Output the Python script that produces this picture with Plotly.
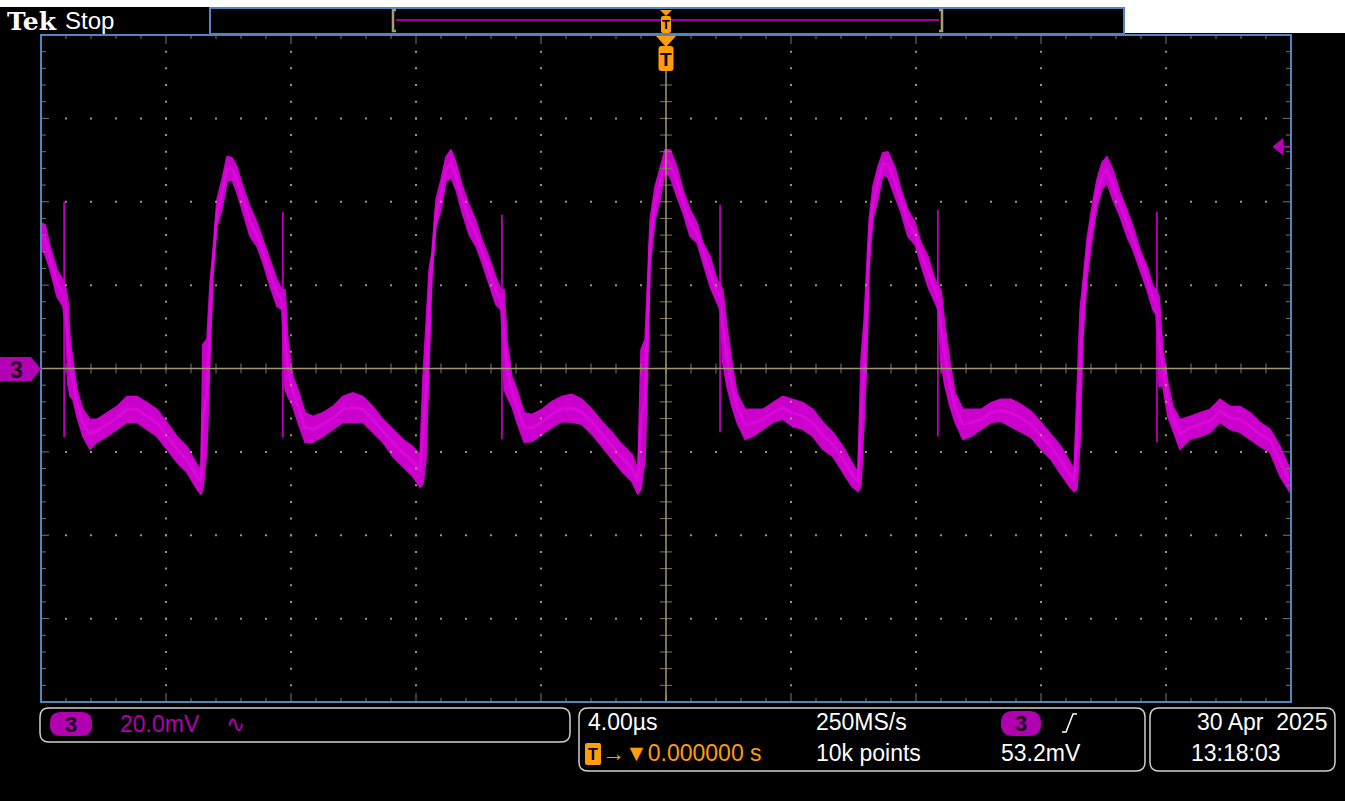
import numpy as np
import plotly.graph_objects as go

# ---- Channel 3 trace: upper / lower envelope of the displayed waveform ----
t_us = [-20.00, -19.87, -19.71, -19.49, -19.30, -19.20, -19.14, -19.07, -18.98, -18.85,
        -18.66, -18.43, -18.21, -17.89, -17.57, -17.25, -16.93, -16.61, -16.29, -15.97,
        -15.65, -15.33, -15.01, -14.88, -14.82, -14.69, -14.59, -14.50, -14.37, -14.21,
        -14.05, -13.89, -13.73, -13.54, -13.31, -13.09, -12.90, -12.67, -12.45, -12.29,
        -12.19, -12.10, -11.94, -11.78, -11.55, -11.30, -10.98, -10.66, -10.34, -10.02,
        -9.70, -9.38, -9.06, -8.74, -8.42, -8.10, -7.87, -7.78, -7.68, -7.58,
        -7.49, -7.36, -7.20, -7.04, -6.88, -6.72, -6.53, -6.30, -6.08, -5.89,
        -5.66, -5.44, -5.28, -5.18, -5.09, -4.93, -4.77, -4.54, -4.29, -3.97,
        -3.65, -3.33, -3.01, -2.69, -2.37, -2.05, -1.73, -1.41, -1.09, -0.90,
        -0.80, -0.67, -0.58, -0.51, -0.35, -0.19, -0.03, 0.13, 0.35, 0.54,
        0.77, 0.99, 1.18, 1.41, 1.63, 1.73, 1.82, 1.95, 2.11, 2.27,
        2.53, 2.78, 3.10, 3.42, 3.74, 4.06, 4.38, 4.70, 5.02, 5.34,
        5.66, 5.95, 6.14, 6.24, 6.34, 6.43, 6.50, 6.62, 6.78, 6.94,
        7.10, 7.33, 7.52, 7.74, 7.97, 8.16, 8.38, 8.61, 8.70, 8.80,
        8.93, 9.09, 9.25, 9.50, 9.76, 10.08, 10.40, 10.72, 11.04, 11.36,
        11.68, 12.00, 12.32, 12.64, 12.93, 13.06, 13.15, 13.25, 13.34, 13.47,
        13.63, 13.79, 13.95, 14.11, 14.30, 14.53, 14.75, 14.94, 15.17, 15.39,
        15.58, 15.68, 15.78, 15.90, 16.06, 16.22, 16.45, 16.77, 17.09, 17.41,
        17.73, 18.05, 18.37, 18.69, 19.01, 19.33, 19.65, 19.97]
v_top_mV = [35.0, 34.5, 29.3, 23.7, 21.3, 18.9, 16.5, 7.0, 2.2, -5.0,
            -9.8, -12.2, -12.2, -10.6, -9.1, -6.7, -6.7, -8.2, -9.8, -12.9,
            -16.3, -18.7, -23.0, -24.2, 5.8, 7.0, 20.6, 27.8, 40.5, 45.3,
            50.8, 50.6, 48.4, 43.6, 38.8, 35.0, 30.9, 26.1, 21.3, 18.9,
            18.9, 7.0, -1.9, -5.0, -10.6, -11.5, -10.6, -9.1, -6.7, -5.8,
            -6.7, -9.1, -12.2, -14.6, -17.0, -18.7, -20.6, -2.6, 9.4, 23.7,
            27.8, 40.5, 45.3, 50.8, 52.5, 49.4, 44.1, 39.3, 35.3, 30.9,
            26.6, 21.8, 18.9, 18.9, 7.0, -1.9, -5.0, -10.6, -11.0, -9.8,
            -7.9, -6.7, -6.2, -7.4, -9.8, -12.7, -15.3, -18.2, -20.6, -24.2,
            4.6, 7.0, 23.0, 35.7, 43.6, 48.4, 52.5, 52.5, 48.4, 42.9,
            38.1, 35.0, 30.2, 26.9, 21.3, 20.1, 18.9, 10.1, 1.4, -5.8,
            -9.8, -9.8, -9.8, -8.2, -6.7, -7.4, -8.2, -9.8, -12.9, -15.3,
            -18.7, -22.5, -24.9, 2.2, 11.8, 25.4, 35.7, 43.6, 48.4, 51.8,
            52.0, 48.2, 42.9, 38.1, 35.0, 30.2, 26.9, 21.3, 20.1, 18.9,
            10.1, 1.4, -5.8, -9.8, -9.8, -9.8, -8.2, -7.4, -7.4, -8.6,
            -10.3, -12.9, -15.8, -18.7, -22.5, -24.2, -5.8, 14.1, 20.6, 30.9,
            38.8, 45.3, 49.4, 50.8, 47.7, 42.2, 38.1, 34.1, 28.5, 24.5,
            19.7, 18.9, 17.3, 4.6, -3.4, -9.1, -12.2, -11.5, -10.6, -9.8,
            -7.4, -9.1, -9.1, -10.6, -12.9, -14.6, -18.7, -24.2]
v_bot_mV = [29.3, 27.3, 23.7, 17.3, 14.9, 9.4, -3.8, -6.7, -7.4, -11.5,
            -16.3, -19.4, -17.7, -16.3, -14.6, -12.9, -12.9, -14.6, -16.3, -19.4,
            -22.5, -24.9, -29.0, -30.2, -29.0, -19.4, 3.8, 22.1, 34.1, 38.1,
            44.8, 45.3, 42.2, 37.4, 31.7, 29.3, 25.4, 19.7, 14.9, 14.1,
            -5.0, -6.7, -9.1, -12.9, -17.7, -17.7, -16.3, -14.6, -12.9, -12.9,
            -12.9, -15.3, -17.7, -21.1, -23.5, -25.9, -28.5, -27.8, -21.8, 4.6,
            22.1, 34.1, 38.1, 44.8, 45.8, 42.9, 37.6, 32.1, 29.3, 25.4,
            20.1, 15.3, 14.1, -5.0, -6.7, -9.1, -12.9, -17.7, -17.5, -15.8,
            -14.1, -12.7, -12.9, -13.4, -15.8, -18.7, -21.8, -24.7, -27.1, -30.2,
            -29.0, -21.8, 1.4, 24.5, 35.7, 40.5, 47.0, 46.0, 41.2, 37.4,
            31.7, 30.2, 25.4, 19.7, 15.8, 14.1, 1.4, -4.3, -9.1, -12.9,
            -17.0, -16.3, -14.6, -12.9, -12.2, -13.9, -14.6, -16.3, -19.4, -21.1,
            -24.9, -28.3, -29.5, -28.3, -12.2, 2.2, 24.5, 35.7, 40.5, 46.5,
            45.8, 41.2, 37.4, 31.7, 29.7, 24.9, 19.7, 15.8, 14.1, 1.4,
            -4.3, -9.1, -12.9, -17.0, -16.3, -14.6, -12.9, -12.7, -13.9, -15.1,
            -16.5, -19.4, -21.8, -25.4, -28.5, -29.5, -29.0, -17.7, 7.0, 21.3,
            30.9, 38.8, 42.9, 44.6, 40.5, 36.4, 31.7, 28.5, 23.7, 18.9,
            14.1, 12.9, -4.3, -4.3, -11.5, -14.6, -19.4, -17.0, -16.3, -15.3,
            -12.9, -14.6, -15.3, -17.0, -18.7, -20.1, -25.9, -29.7]

# switching spikes on the falling edges
spike_t_us = [-19.26, -12.26, -5.25, 1.73, 8.70, 15.71]
spike_top_mV = [40.0, 37.6, 36.9, 39.3, 38.1, 37.6]
spike_bot_mV = [-16.5, -16.5, -17.0, -15.3, -16.3, -17.7]

# ---- scope settings ----
MV_PER_DIV = 20.0
US_PER_DIV = 4.0
TRIG_LEVEL_MV = 53.2
X_RANGE = [-5 * US_PER_DIV, 5 * US_PER_DIV]
Y_RANGE = [-4 * MV_PER_DIV, 4 * MV_PER_DIV]

W, H = 1345, 801
GL, GR, GT, GB = 41, 1291, 35, 702          # graticule box in page pixels


def PX(x):
    return (x - GL) / (GR - GL)


def PY(y):
    return (GB - y) / (GB - GT)


MAGENTA = "#cc00cc"
TAN = "rgb(160,150,112)"
TAN_DIM = "rgb(128,120,90)"
BLUE = "#4f86bf"
ORANGE = "#ff9d0a"
GREY = "#cfcfcf"
FONT = "Liberation Sans, Arial, sans-serif"
TS = 23

fig = go.Figure()

# ---- waveform ----
fig.add_trace(go.Scatter(x=t_us, y=v_bot_mV, mode="lines",
                         line=dict(color=MAGENTA, width=1.5), hoverinfo="skip"))
fig.add_trace(go.Scatter(x=t_us, y=v_top_mV, mode="lines", fill="tonexty",
                         fillcolor=MAGENTA, line=dict(color=MAGENTA, width=1.5),
                         hoverinfo="skip"))
mid = [(a + b) / 2 for a, b in zip(v_top_mV, v_bot_mV)]
fig.add_trace(go.Scatter(x=t_us, y=mid, mode="lines",
                         line=dict(color="rgba(240,20,240,0.4)", width=3),
                         hoverinfo="skip"))
sx, sy = [], []
for t, a, b in zip(spike_t_us, spike_top_mV, spike_bot_mV):
    sx += [t, t, None]
    sy += [a, b, None]
fig.add_trace(go.Scatter(x=sx, y=sy, mode="lines",
                         line=dict(color=MAGENTA, width=1.6), hoverinfo="skip"))

# ---- graticule ----
xminor = np.arange(X_RANGE[0], X_RANGE[1] + 1e-9, US_PER_DIV / 5)
yminor = np.arange(Y_RANGE[0], Y_RANGE[1] + 1e-9, MV_PER_DIV / 5)
xmaj = [k * US_PER_DIV for k in range(-4, 5) if k != 0]
ymaj = [k * MV_PER_DIV for k in range(-3, 4) if k != 0]
xin = [v for v in xminor if X_RANGE[0] < v < X_RANGE[1]]
yin = [v for v in yminor if Y_RANGE[0] < v < Y_RANGE[1]]

dx, dy = [], []
for gx in xmaj:
    for v in yin:
        dx.append(gx); dy.append(v)
for gy in ymaj:
    for v in xin:
        dx.append(v); dy.append(gy)
fig.add_trace(go.Scatter(x=dx, y=dy, mode="markers",
                         marker=dict(symbol="square", size=2, color=TAN, line=dict(width=0)),
                         hoverinfo="skip"))

pxu = (X_RANGE[1] - X_RANGE[0]) / (GR - GL)    # µs per pixel
pyu = (Y_RANGE[1] - Y_RANGE[0]) / (GB - GT)    # mV per pixel
tx, ty = [], []
for v in xin:
    major = abs(v / US_PER_DIV - round(v / US_PER_DIV)) < 1e-6
    L = 9 if major else 4
    tx += [v, v, None, v, v, None]
    ty += [Y_RANGE[1], Y_RANGE[1] - L * pyu, None, Y_RANGE[0], Y_RANGE[0] + L * pyu, None]
    # ticks on the horizontal centre line
    tx += [v, v, None]
    ty += [-5 * pyu, 5 * pyu, None]
for v in yin:
    major = abs(v / MV_PER_DIV - round(v / MV_PER_DIV)) < 1e-6
    L = 8 if major else 5
    tx += [X_RANGE[0], X_RANGE[0] + L * pxu, None, X_RANGE[1], X_RANGE[1] - L * pxu, None]
    ty += [v, v, None, v, v, None]
    # ticks on the vertical centre line
    tx += [-6 * pxu, 6 * pxu, None]
    ty += [v, v, None]
fig.add_trace(go.Scatter(x=tx, y=ty, mode="lines",
                         line=dict(color=TAN_DIM, width=1), hoverinfo="skip"))

# centre cross-hair
top_of_center = Y_RANGE[1] - (71 - GT) * pyu
fig.add_trace(go.Scatter(x=[X_RANGE[0], X_RANGE[1], None, 0, 0],
                         y=[0, 0, None, Y_RANGE[0], top_of_center], mode="lines",
                         line=dict(color=TAN, width=1.5), hoverinfo="skip"))

# trigger level arrow on right edge
ax0 = X_RANGE[1] - 18 * pxu
ax1 = X_RANGE[1] - 8 * pxu
fig.add_trace(go.Scatter(x=[ax0, ax1, ax1, ax0], y=[TRIG_LEVEL_MV, TRIG_LEVEL_MV + 8 * pyu,
                                                    TRIG_LEVEL_MV - 8 * pyu, TRIG_LEVEL_MV],
                         mode="lines", fill="toself", fillcolor="#b400b4",
                         line=dict(color="#b400b4", width=1), hoverinfo="skip"))
fig.add_trace(go.Scatter(x=[ax1, X_RANGE[1]], y=[TRIG_LEVEL_MV, TRIG_LEVEL_MV], mode="lines",
                         line=dict(color="#b400b4", width=2), hoverinfo="skip"))

shapes = []
ann = []


def rect(x0, y0, x1, y1, line=None, fill=None, lw=1.5):
    shapes.append(dict(type="rect", xref="paper", yref="paper",
                       x0=PX(x0), x1=PX(x1), y0=PY(y1), y1=PY(y0),
                       line=dict(color=line or "rgba(0,0,0,0)", width=lw if line else 0),
                       fillcolor=fill or "rgba(0,0,0,0)", layer="above"))


def path(pts, fill=None, line=None, lw=1.5, close=True):
    d = "M " + " L ".join(f"{PX(x):.5f},{PY(y):.5f}" for x, y in pts)
    if close:
        d += " Z"
    shapes.append(dict(type="path", xref="paper", yref="paper", path=d,
                       fillcolor=fill or "rgba(0,0,0,0)",
                       line=dict(color=line or "rgba(0,0,0,0)", width=lw if line else 0),
                       layer="above"))


def rrect(x0, y0, x1, y1, r, fill=None, line=None, lw=1.5):
    d = (f"M {PX(x0 + r)},{PY(y0)} L {PX(x1 - r)},{PY(y0)} Q {PX(x1)},{PY(y0)} {PX(x1)},{PY(y0 + r)} "
         f"L {PX(x1)},{PY(y1 - r)} Q {PX(x1)},{PY(y1)} {PX(x1 - r)},{PY(y1)} "
         f"L {PX(x0 + r)},{PY(y1)} Q {PX(x0)},{PY(y1)} {PX(x0)},{PY(y1 - r)} "
         f"L {PX(x0)},{PY(y0 + r)} Q {PX(x0)},{PY(y0)} {PX(x0 + r)},{PY(y0)} Z")
    shapes.append(dict(type="path", xref="paper", yref="paper", path=d,
                       fillcolor=fill or "rgba(0,0,0,0)",
                       line=dict(color=line or "rgba(0,0,0,0)", width=lw if line else 0),
                       layer="above"))


def text(x, y, s, size=TS, color="white", anchor="left", family=FONT, bold=False):
    ann.append(dict(xref="paper", yref="paper", x=PX(x), y=PY(y), text=(f"<b>{s}</b>" if bold else s),
                    showarrow=False, xanchor=anchor, yanchor="middle",
                    font=dict(size=size, color=color, family=family)))


# page edge
rect(0, 0, W, 7, fill="white")
rect(1125, 0, W, 33, fill="white")

# graticule border
rect(GL, GT, GR, GB, line=BLUE, lw=2)

# header
text(5, 21, "Tek", size=25, family="DejaVu Serif, serif", bold=True)
text(63, 20, "Stop", size=24)
rect(210, 8, 1124, 34, line=BLUE, fill="black", lw=2)
path([(396, 10), (393, 10), (393, 31), (396, 31)], line="#a89a78", lw=2.5, close=False)
path([(939, 10), (942, 10), (942, 31), (939, 31)], line="#a89a78", lw=2.5, close=False)
path([(396, 20), (939, 20)], line="#a000a0", lw=2, close=False)
path([(660, 10), (672, 10), (666, 16)], fill=ORANGE)
rrect(661, 16, 671, 33, 2, fill=ORANGE)
text(666, 25, "T", size=13, color="black", anchor="center", bold=True)
path([(656, 36), (676, 36), (666, 47)], fill=ORANGE)
rrect(658.5, 46, 673.5, 71, 3, fill=ORANGE)
text(666, 59, "T", size=19, color="black", anchor="center", bold=True)

# channel 3 ground marker
path([(0, 357), (31, 357), (41, 369), (31, 381), (0, 381)], fill="#b400b4")
text(16, 370, "3", size=23, color="#1a0018", anchor="center", bold=True)

# ---- bottom readouts ----
rrect(40, 708, 570, 742, 9, line=GREY, lw=1.5)
rrect(579, 708, 1145, 771, 9, line=GREY, lw=1.5)
rrect(1150, 708, 1335, 771, 9, line=GREY, lw=1.5)

rrect(50, 712, 92, 736, 11, fill="#b000b0")
text(71, 724, "3", size=22, color="#1a0018", anchor="center", bold=True)
text(118, 724, "20.0mV", color="#b000b0")
text(224, 724, "∿", color="#b000b0")

text(586, 722, "4.00µs")
text(814, 722, "250MS/s")
rrect(1001, 711, 1041, 736, 12, fill="#b000b0")
text(1021, 723, "3", size=22, color="#1a0018", anchor="center", bold=True)
path([(1062, 732), (1066, 732), (1073, 714), (1077, 714)], line="white", lw=1.5, close=False)

rrect(585, 743, 601, 765, 2, fill=ORANGE)
text(593, 754, "T", size=16, color="black", anchor="center", bold=True)
text(600, 753, "→▼0.000000 s", color=ORANGE)
text(814, 753, "10k points")
text(999, 753, "53.2mV")

text(1329, 722, "30 Apr  2025", anchor="right")
text(1189, 753, "13:18:03")

fig.update_layout(
    width=W, height=H,
    margin=dict(l=GL, r=W - GR, t=GT, b=H - GB, pad=0),
    paper_bgcolor="black", plot_bgcolor="black",
    showlegend=False,
    xaxis=dict(range=X_RANGE, visible=False, fixedrange=True),
    yaxis=dict(range=Y_RANGE, visible=False, fixedrange=True),
    shapes=shapes, annotations=ann,
)

fig.write_html("out.html", config={"displayModeBar": False})
